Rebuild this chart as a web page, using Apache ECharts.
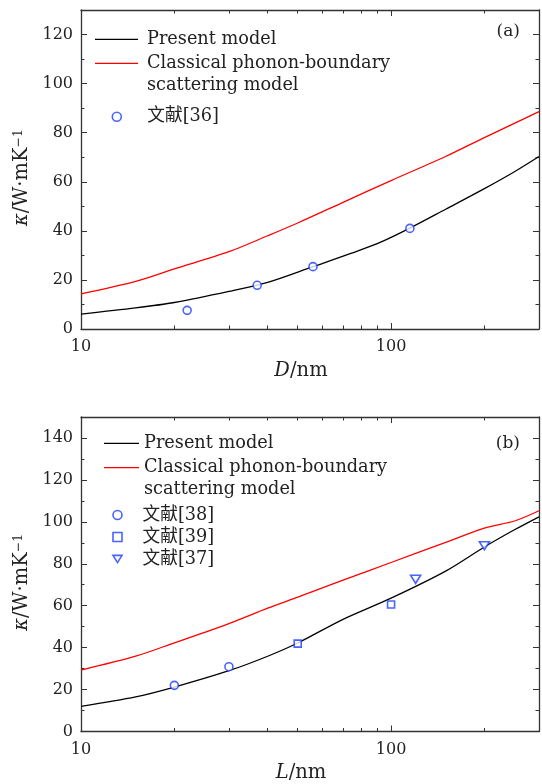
<!DOCTYPE html>
<html>
<head>
<meta charset="utf-8">
<script src="https://cdn.jsdelivr.net/npm/echarts@6/dist/echarts.min.js"></script>
<style>
  html, body { margin: 0; padding: 0; background: #fff; }
  #chart { width: 542px; height: 784px; }
</style>
</head>
<body>
<div id="chart"></div>
<script>
// ---- Panel (a): thermal conductivity vs. nanowire diameter D ----
const diameterA = [10, 15, 20, 30, 40, 56, 75, 93, 115, 150, 200, 250, 300];
const presentA = [6.1, 8.6, 10.8, 15.3, 19.0, 25.4, 31.0, 35.5, 41.1, 48.8, 57.2, 64.1, 70.3];
const classicalD = [10, 15, 20, 30, 40, 50, 70, 100, 150, 200, 300];
const classicalA = [14.3, 19.4, 24.5, 31.5, 38.0, 43.2, 51.6, 60.5, 70.3, 78.0, 88.6];
const ref36D = [22, 37, 56, 115];
const ref36K = [7.6, 17.8, 25.4, 41.0];

// ---- Panel (b): thermal conductivity vs. length L ----
const lengthB = [10, 15, 20, 30, 40, 50, 70, 100, 150, 200, 250, 300];
const presentB = [12.0, 16.5, 21.2, 29.0, 35.9, 42.2, 53.5, 63.6, 76.5, 88.0, 96.2, 102.4];
const classicalB = [29.3, 35.9, 42.3, 51.5, 58.8, 64.1, 72.2, 80.6, 90.2, 97.0, 100.4, 105.3];
const ref38L = [20, 30];
const ref38K = [22.0, 30.9];
const ref39L = [50, 100];
const ref39K = [41.9, 60.6];
const ref37L = [120, 200];
const ref37K = [72.6, 88.6];

// ---- Tick values ----
const xMajorTicks = [10, 100];
const xMinorTicks = [20, 30, 40, 50, 60, 70, 80, 90, 200, 300];
const yMajorA = [0, 20, 40, 60, 80, 100, 120];
const yMinorA = [10, 30, 50, 70, 90, 110, 130];
const yMajorB = [0, 20, 40, 60, 80, 100, 120, 140];
const yMinorB = [10, 30, 50, 70, 90, 110, 130, 150];

const NAME_PRESENT = 'Present model';
const NAME_CLASSICAL = 'Classical phonon-boundary\nscattering model';

const FONT = '"DejaVu Serif", "Noto Sans CJK SC", serif';
const TEXT = '#222';
const AXIS = '#333';
const BLUE = '#1a3cff';
const DOWN_TRIANGLE = 'path://M0,0L20,0L10,16Z';

const pair = (xs, ys) => xs.map((x, i) => [x, ys[i]]);

function xAxes(grid, nameText) {
  const base = {
    type: 'log', logBase: 10, min: 10, max: 300, gridIndex: grid,
    splitLine: { show: false }, minorTick: { show: false }, minorSplitLine: { show: false }
  };
  const line = { show: true, onZero: false, lineStyle: { color: AXIS, width: 1.3 } };
  const noLine = { show: false, onZero: false };
  return [
    Object.assign({}, base, {
      position: 'bottom', axisLine: line,
      axisTick: { inside: true, length: 6, customValues: xMajorTicks, lineStyle: { color: AXIS, width: 1 } },
      axisLabel: { customValues: xMajorTicks, margin: 10, color: TEXT, fontFamily: FONT, fontSize: 16 },
      name: nameText, nameLocation: 'middle', nameGap: 32,
      nameTextStyle: {
        color: TEXT, fontFamily: FONT, fontSize: 19.5, padding: [0, 18, 0, 0],
        rich: { i: { fontStyle: 'italic', fontFamily: FONT, fontSize: 19.5, color: TEXT } }
      }
    }),
    Object.assign({}, base, {
      position: 'bottom', axisLine: noLine,
      axisTick: { inside: true, length: 3.5, customValues: xMinorTicks, lineStyle: { color: AXIS, width: 1 } },
      axisLabel: { show: false }
    }),
    Object.assign({}, base, {
      position: 'top', axisLine: line,
      axisTick: { inside: true, length: 6, customValues: xMajorTicks, lineStyle: { color: AXIS, width: 1 } },
      axisLabel: { show: false }
    }),
    Object.assign({}, base, {
      position: 'top', axisLine: noLine,
      axisTick: { inside: true, length: 3.5, customValues: xMinorTicks, lineStyle: { color: AXIS, width: 1 } },
      axisLabel: { show: false }
    })
  ];
}

function yAxes(grid, max, major, minor) {
  const base = {
    type: 'value', min: 0, max: max, interval: 10, gridIndex: grid,
    splitLine: { show: false }, minorTick: { show: false }
  };
  const line = { show: true, onZero: false, lineStyle: { color: AXIS, width: 1.3 } };
  const noLine = { show: false, onZero: false };
  return [
    Object.assign({}, base, {
      position: 'left', axisLine: line,
      axisTick: { inside: true, length: 6, customValues: major, lineStyle: { color: AXIS, width: 1 } },
      axisLabel: { customValues: major, margin: 8, color: TEXT, fontFamily: FONT, fontSize: 16 },
      name: '{k|κ}/W·mK{s|−1}', nameLocation: 'middle', nameRotate: 90, nameGap: 40,
      nameTextStyle: {
        color: TEXT, fontFamily: FONT, fontSize: 19.5, padding: [0, 16, 0, 0],
        rich: {
          k: { fontStyle: 'italic', fontFamily: FONT, fontSize: 19.5, color: TEXT },
          s: { fontFamily: FONT, fontSize: 12.5, color: TEXT, verticalAlign: 'top' }
        }
      }
    }),
    Object.assign({}, base, {
      position: 'left', axisLine: noLine,
      axisTick: { inside: true, length: 3.5, customValues: minor, lineStyle: { color: AXIS, width: 1 } },
      axisLabel: { show: false }
    }),
    Object.assign({}, base, {
      position: 'right', axisLine: line,
      axisTick: { inside: true, length: 6, customValues: major, lineStyle: { color: AXIS, width: 1 } },
      axisLabel: { show: false }
    }),
    Object.assign({}, base, {
      position: 'right', axisLine: noLine,
      axisTick: { inside: true, length: 3.5, customValues: minor, lineStyle: { color: AXIS, width: 1 } },
      axisLabel: { show: false }
    })
  ];
}

function curve(name, xIdx, yIdx, xs, ys, color) {
  return {
    type: 'line', name: name, xAxisIndex: xIdx, yAxisIndex: yIdx,
    data: pair(xs, ys), smooth: 0.3, symbol: 'none',
    lineStyle: { color: color, width: 1.3 }, itemStyle: { color: color },
    z: 3
  };
}

function points(name, xIdx, yIdx, xs, ys, symbol, size) {
  return {
    type: 'scatter', name: name, xAxisIndex: xIdx, yAxisIndex: yIdx,
    data: pair(xs, ys), symbol: symbol, symbolSize: size,
    itemStyle: { color: '#fff', borderColor: BLUE, borderWidth: 1.6 },
    z: 4
  };
}

const legendText = { color: TEXT, fontFamily: FONT, fontSize: 17.7, lineHeight: 22 };

// Legend entry for a curve: a thin coloured bar followed by the label
function lineLegend(left, top, width, names, padLeft, formatter) {
  return {
    left: left, top: top, orient: 'vertical', padding: 0,
    itemWidth: width, itemHeight: 1.3, itemGap: 0,
    icon: 'rect', symbolKeepAspect: false,
    itemStyle: { borderWidth: 0 },
    selectedMode: false, data: names, formatter: formatter,
    textStyle: Object.assign({}, legendText, { padding: [0, 0, 0, padLeft] })
  };
}

// Legend entries for the reference data points: marker followed by the label
function markerLegend(left, top, names, padLeft) {
  return {
    left: left, top: top, orient: 'vertical', padding: 0,
    itemWidth: 9, itemHeight: 9, itemGap: 0,
    itemStyle: { borderWidth: 1.6 },
    selectedMode: false, data: names,
    textStyle: Object.assign({}, legendText, { padding: [0, 0, 0, padLeft] })
  };
}

// The leading blank line keeps the bar level with the first text line
const twoLine = name => '\n' + name;

const option = {
  animation: false,
  backgroundColor: '#fff',
  grid: [
    { left: 81, right: 3, top: 10, height: 319 },
    { left: 81, right: 3, top: 417, height: 320 }
  ],
  xAxis: xAxes(0, '{i|D}/nm').concat(xAxes(1, '{i|L}/nm')),
  yAxis: yAxes(0, 130, yMajorA, yMinorA).concat(yAxes(1, 150, yMajorB, yMinorB)),
  title: [
    { text: '(a)', right: 22, top: 23, padding: 0,
      textStyle: { color: TEXT, fontFamily: FONT, fontSize: 17, fontWeight: 'normal' } },
    { text: '(b)', right: 22, top: 435, padding: 0,
      textStyle: { color: TEXT, fontFamily: FONT, fontSize: 17, fontWeight: 'normal' } }
  ],
  legend: [
    lineLegend(95, 28.3, 43, [NAME_PRESENT], 4),
    lineLegend(95, 30.3, 43, [NAME_CLASSICAL], 4, twoLine),
    markerLegend(111.5, 105.7, ['文献[36]'], 21),
    lineLegend(104, 432.3, 35, [NAME_PRESENT], 0),
    lineLegend(104, 434.7, 35, [NAME_CLASSICAL], 0, twoLine),
    markerLegend(112.2, 504, ['文献[38]', '文献[39]', '文献[37]'], 15.5)
  ],
  series: [
    curve(NAME_PRESENT, 0, 0, diameterA, presentA, '#000'),
    curve(NAME_CLASSICAL, 0, 0, classicalD, classicalA, '#ff0000'),
    points('文献[36]', 0, 0, ref36D, ref36K, 'circle', 8),
    curve(NAME_PRESENT, 4, 4, lengthB, presentB, '#000'),
    curve(NAME_CLASSICAL, 4, 4, lengthB, classicalB, '#ff0000'),
    points('文献[38]', 4, 4, ref38L, ref38K, 'circle', 8),
    points('文献[39]', 4, 4, ref39L, ref39K, 'rect', 7),
    points('文献[37]', 4, 4, ref37L, ref37K, DOWN_TRIANGLE, [10, 8])
  ]
};

const chart = echarts.init(document.getElementById('chart'), null, { renderer: 'canvas' });
chart.setOption(option);
</script>
</body>
</html>
